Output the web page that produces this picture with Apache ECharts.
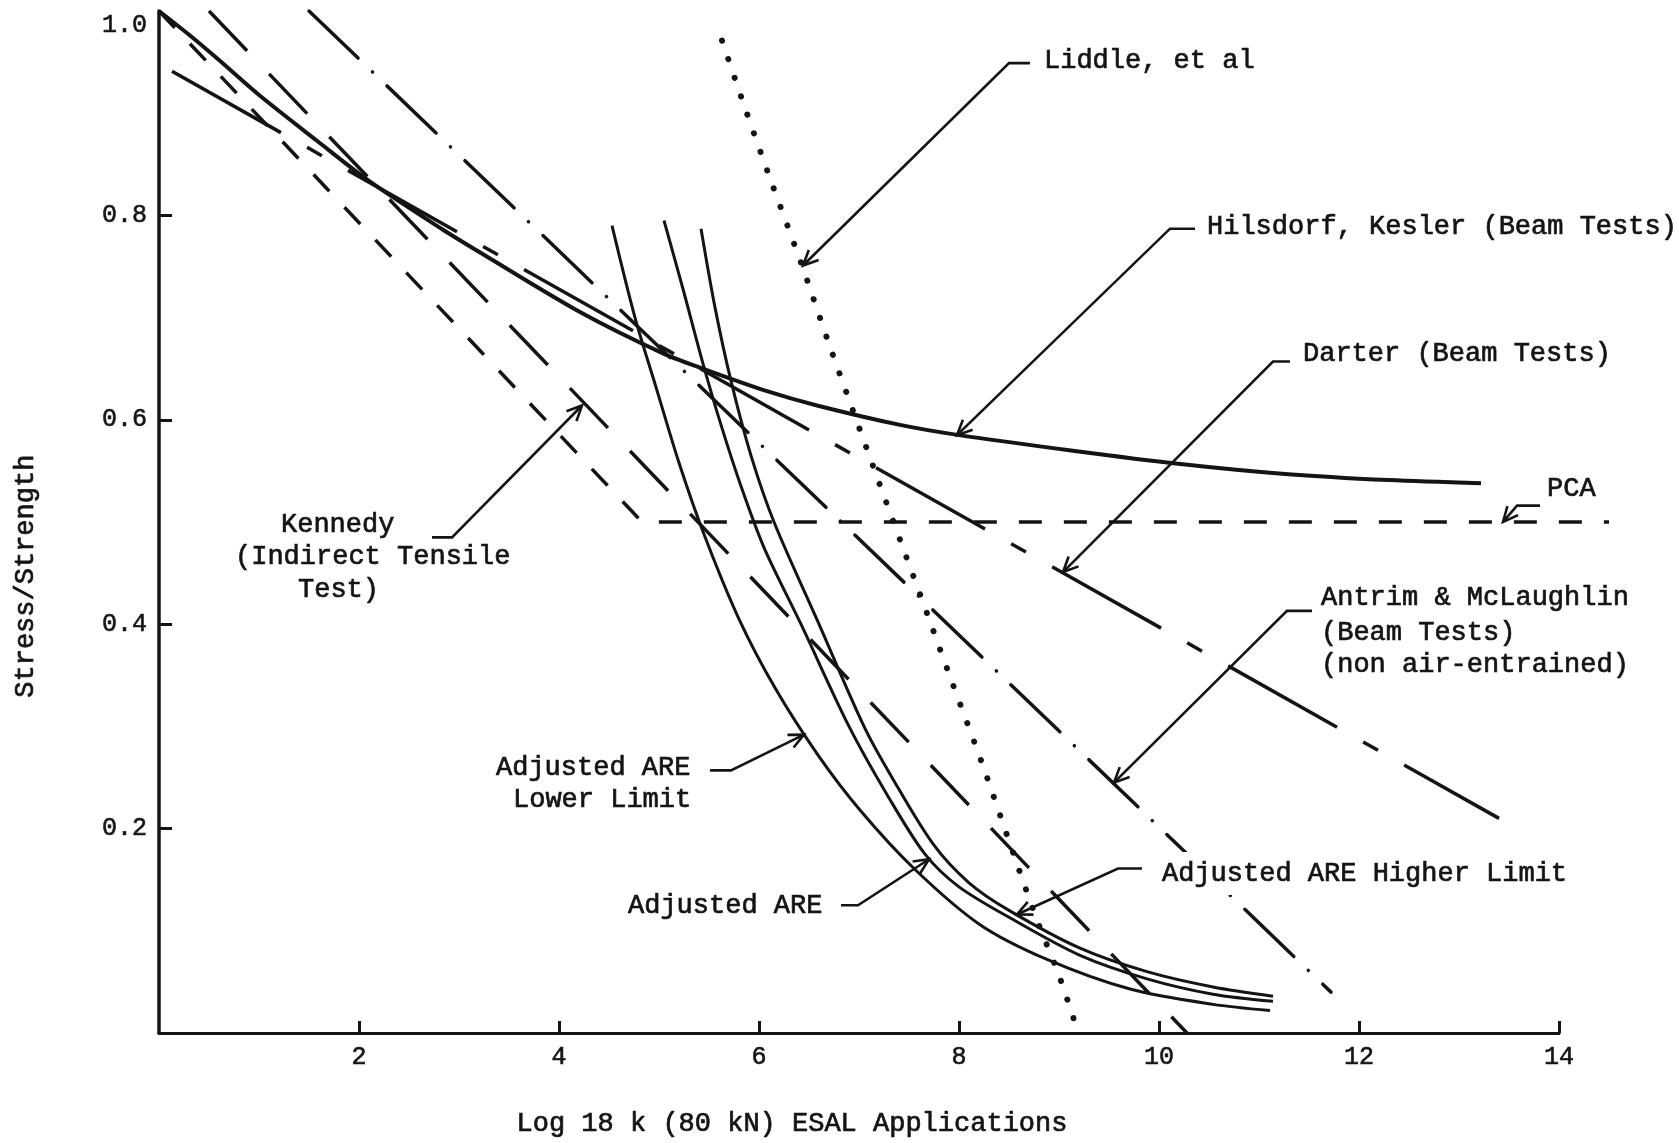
<!DOCTYPE html>
<html>
<head>
<meta charset="utf-8">
<script src="https://cdn.jsdelivr.net/npm/echarts@6/dist/echarts.min.js"></script>
<style>
  html, body { margin: 0; padding: 0; background: #fff; }
  #chart { width: 1679px; height: 1143px; }
</style>
</head>
<body>
<div id="chart"></div>
<script>
// Axis ticks
const xTicks = [2, 4, 6, 8, 10, 12, 14];
const yTicks = [0.2, 0.4, 0.6, 0.8];
const yTopLabel = '1.0';

// Fatigue curves: [log N, stress/strength]
const hilsdorfKesler = [[0, 1.0], [0.31, 0.976], [0.6, 0.952], [1.01, 0.917], [1.58, 0.873], [2.11, 0.833],
  [2.84, 0.786], [3.24, 0.762], [4.2, 0.706], [5.04, 0.665], [5.44, 0.650], [6.08, 0.628], [6.58, 0.614],
  [7.41, 0.595], [8.0, 0.585], [9.12, 0.570], [10.19, 0.557], [11.26, 0.547], [12.3, 0.541], [13.22, 0.538]];
const darter = [[0.13, 0.941], [13.4, 0.21]];
const pca = [[0, 1.0], [4.83, 0.5], [14.5, 0.5]];
const kennedy = [[0.5, 1.0], [10.28, 0.0]];
const antrimMcLaughlin = [[1.5, 1.0], [11.72, 0.04]];
const liddle = [[5.63, 0.971], [5.85, 0.908], [6.1, 0.839], [6.43, 0.751], [6.69, 0.677], [6.94, 0.609],
  [7.21, 0.536], [7.45, 0.472], [7.69, 0.408], [7.92, 0.346], [8.23, 0.264], [8.56, 0.171], [8.79, 0.108],
  [8.99, 0.059], [9.15, 0.013]];
const areLower = [[4.53, 0.79], [4.76, 0.70], [4.97, 0.632], [5.2, 0.558], [5.45, 0.488], [5.8, 0.405],
  [6.17, 0.336], [6.59, 0.272], [7.02, 0.217], [7.56, 0.16], [8.21, 0.106], [8.88, 0.072], [9.71, 0.043],
  [10.54, 0.028], [11.11, 0.022]];
const areAdjusted = [[5.05, 0.795], [5.24, 0.728], [5.44, 0.655], [5.62, 0.595], [5.82, 0.535], [6.05, 0.475],
  [6.42, 0.4], [6.9, 0.3], [7.3, 0.23], [7.66, 0.175], [8.0, 0.143], [8.54, 0.111], [9.21, 0.076],
  [9.88, 0.053], [10.54, 0.038], [11.14, 0.031]];
const areHigher = [[5.42, 0.787], [5.56, 0.71], [5.72, 0.638], [5.92, 0.565], [6.15, 0.5], [6.6, 0.4],
  [7.05, 0.3], [7.33, 0.25], [7.74, 0.185], [8.1, 0.147], [8.5, 0.12], [9.21, 0.083], [9.88, 0.06],
  [10.54, 0.045], [11.14, 0.036]];

const xTitle = 'Log 18 k (80 kN) ESAL Applications';
const yTitle = 'Stress/Strength';

const INK = '#141414';
const FONT = '"Liberation Mono", "DejaVu Sans Mono", monospace';

const chart = echarts.init(document.getElementById('chart'), null, { renderer: 'canvas' });

function curve(name, data, lineStyle, smooth, onWideGrid) {
  return {
    name: name,
    type: 'line',
    data: data,
    xAxisIndex: onWideGrid ? 1 : 0,
    yAxisIndex: onWideGrid ? 1 : 0,
    symbol: 'none',
    showSymbol: false,
    clip: false,
    silent: true,
    smooth: smooth || false,
    lineStyle: Object.assign({ color: INK, width: 3.5, cap: 'butt', join: 'round' }, lineStyle)
  };
}

const axisText = { color: INK, fontFamily: FONT, textBorderColor: INK, textBorderWidth: 0.6 };

// Plot area: 100 px per log cycle; a second, hidden grid carries the same scale past 14
const PLOT = { left: 159, top: 11, height: 1022, pxPerUnit: 100 };

chart.setOption({
  animation: false,
  backgroundColor: '#ffffff',
  grid: [
    { left: PLOT.left, top: PLOT.top, width: 14 * PLOT.pxPerUnit, height: PLOT.height },
    { left: PLOT.left, top: PLOT.top, width: 15 * PLOT.pxPerUnit, height: PLOT.height }
  ],
  xAxis: [{
    type: 'value', min: 0, max: 14, interval: 2, gridIndex: 0,
    axisLine: { show: true, onZero: false, lineStyle: { color: INK, width: 3 } },
    axisTick: { show: true, inside: true, length: 12, customValues: xTicks, lineStyle: { color: INK, width: 3 } },
    axisLabel: Object.assign({ customValues: xTicks, fontSize: 25, margin: 12 }, axisText),
    splitLine: { show: false }
  }, {
    type: 'value', min: 0, max: 15, gridIndex: 1, show: false
  }],
  yAxis: [{
    type: 'value', min: 0, max: 1, interval: 0.2, gridIndex: 0,
    axisLine: { show: true, onZero: false, lineStyle: { color: INK, width: 3.5 } },
    axisTick: { show: true, inside: true, length: 13, customValues: yTicks, lineStyle: { color: INK, width: 3 } },
    axisLabel: Object.assign({ customValues: yTicks, fontSize: 25, margin: 12,
      formatter: function (v) { return v.toFixed(1); } }, axisText),
    splitLine: { show: false }
  }, {
    type: 'value', min: 0, max: 1, gridIndex: 1, show: false
  }],
  series: [
    curve('Hilsdorf, Kesler (Beam Tests)', hilsdorfKesler, { width: 4 }, 0.3),
    curve('Darter (Beam Tests)', darter, { width: 3.5, type: [125, 30, 17, 30] }),
    curve('PCA', pca, { width: 3.5, type: [23, 22] }, false, true),
    curve('Kennedy (Indirect Tensile Test)', kennedy, { width: 3.5, type: [55, 32] }),
    curve('Antrim & McLaughlin', antrimMcLaughlin, { width: 3.5, type: [68, 20, 0.1, 20], cap: 'round' }),
    curve('Liddle, et al', liddle, { width: 6, type: [0.1, 19.5], cap: 'round' }, 0.3),
    curve('Adjusted ARE Lower Limit', areLower, { width: 3 }, 0.3),
    curve('Adjusted ARE', areAdjusted, { width: 3 }, 0.3),
    curve('Adjusted ARE Higher Limit', areHigher, { width: 3 }, 0.3)
  ]
});

// Callout labels: text anchors (left, middle) and leader polylines ending in an arrow, in data units
const callouts = [
  { lines: [{ text: 'Liddle, et al', at: [8.85, 0.951] }],
    leader: [[8.71, 0.949], [8.50, 0.949], [6.44, 0.751]] },
  { lines: [{ text: 'Hilsdorf, Kesler (Beam Tests)', at: [10.48, 0.789] }],
    leader: [[10.36, 0.787], [10.11, 0.787], [7.98, 0.585]] },
  { lines: [{ text: 'Darter (Beam Tests)', at: [11.44, 0.665] }],
    leader: [[11.31, 0.657], [11.14, 0.657], [9.04, 0.451]] },
  { lines: [{ text: 'PCA', at: [13.88, 0.532] }],
    leader: [[13.81, 0.516], [13.58, 0.516], [13.44, 0.5]] },
  { lines: [{ text: 'Kennedy', at: [1.22, 0.497] },
            { text: '(Indirect Tensile', at: [0.76, 0.466] },
            { text: 'Test)', at: [1.39, 0.434] }],
    leader: [[2.73, 0.485], [2.93, 0.485], [4.23, 0.614]] },
  { lines: [{ text: 'Antrim & McLaughlin', at: [11.62, 0.426] },
            { text: '(Beam Tests)', at: [11.62, 0.392] },
            { text: '(non air-entrained)', at: [11.62, 0.360] }],
    leader: [[11.53, 0.413], [11.28, 0.413], [9.55, 0.245]] },
  { lines: [{ text: 'Adjusted ARE', at: [3.37, 0.259] },
            { text: 'Lower Limit', at: [3.54, 0.228] }],
    leader: [[5.51, 0.257], [5.72, 0.257], [6.45, 0.292]] },
  { lines: [{ text: 'Adjusted ARE', at: [4.69, 0.124] }],
    leader: [[6.82, 0.125], [6.99, 0.125], [7.70, 0.170]] },
  { lines: [{ text: 'Adjusted ARE Higher Limit', at: [10.03, 0.156], knockout: true }],
    leader: [[9.83, 0.161], [9.59, 0.161], [8.58, 0.116]] }
];

function toPx(p) { return chart.convertToPixel({ gridIndex: 0 }, p); }

const textStyle = { fill: INK, fontSize: 27, fontFamily: FONT, stroke: INK, lineWidth: 0.7 };
const graphics = [];

callouts.forEach(function (c) {
  c.lines.forEach(function (l) {
    const p = toPx(l.at);
    const st = Object.assign({ text: l.text, align: 'left', verticalAlign: 'middle' }, textStyle);
    let x = p[0];
    if (l.knockout) {
      // typed across a line: the line stops short of the lettering
      st.backgroundColor = '#ffffff';
      st.padding = [8, 6, 8, 6];
      x -= 6;
    }
    graphics.push({ type: 'text', x: x, y: p[1], silent: true, z: 10, style: st });
  });
  const pts = c.leader.map(toPx);
  graphics.push({ type: 'polyline', silent: true, z: 11, shape: { points: pts },
    style: { stroke: INK, lineWidth: 2.6, fill: null } });
  const tip = pts[pts.length - 1], prev = pts[pts.length - 2];
  const dx = tip[0] - prev[0], dy = tip[1] - prev[1];
  const len = Math.sqrt(dx * dx + dy * dy);
  const ux = dx / len, uy = dy / len, nx = -uy, ny = ux;
  const L = 15, W = 7;
  graphics.push({ type: 'polyline', silent: true, z: 11,
    shape: { points: [[tip[0] - ux * L + nx * W, tip[1] - uy * L + ny * W], tip,
                      [tip[0] - ux * L - nx * W, tip[1] - uy * L - ny * W]] },
    style: { stroke: INK, lineWidth: 2.6, fill: null, lineJoin: 'miter' } });
});

// Top value of the vertical scale, typed slightly below the axis end
const topPx = toPx([0, 1]);
graphics.push({ type: 'text', x: topPx[0] - 12, y: topPx[1] + 14, silent: true, z: 10,
  style: Object.assign({ text: yTopLabel, align: 'right', verticalAlign: 'middle' },
    textStyle, { fontSize: 25, lineWidth: 0.6 }) });

// Axis titles
const xTitlePos = toPx([6.33, 0]);
graphics.push({ type: 'text', x: xTitlePos[0], y: xTitlePos[1] + 91, silent: true, z: 10,
  style: Object.assign({ text: xTitle, align: 'center', verticalAlign: 'middle' }, textStyle) });
const yTitlePos = toPx([0, 0.447]);
graphics.push({ type: 'text', x: 26, y: yTitlePos[1], rotation: Math.PI / 2, silent: true, z: 10,
  style: Object.assign({ text: yTitle, align: 'center', verticalAlign: 'middle' }, textStyle) });

chart.setOption({ graphic: graphics });
</script>
</body>
</html>
